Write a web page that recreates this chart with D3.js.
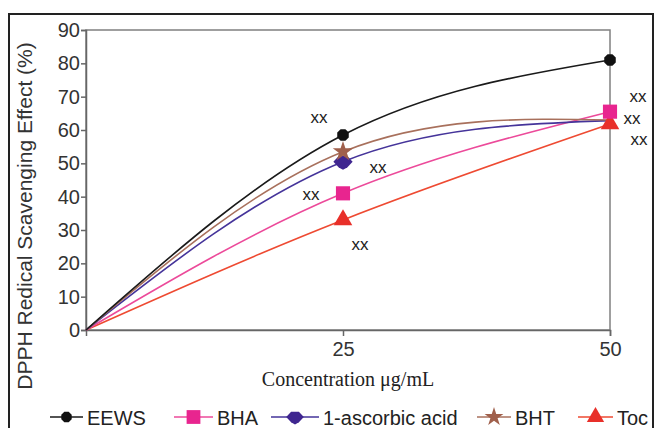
<!DOCTYPE html>
<html>
<head>
<meta charset="utf-8">
<script src="https://d3js.org/d3.v7.min.js"></script>
<style>
  html, body { margin: 0; padding: 0; background: #fff; }
  svg { display: block; font-family: Arial, "Liberation Sans", sans-serif; }
</style>
</head>
<body>
<div id="chart"></div>
<script>
// concentrations (µg/mL)
var conc = [0, 25, 50];

// DPPH scavenging (%)
var eews     = [0, 58.5, 81];
var bha      = [0, 41, 65.5];
var ascorbic = [0, 50.5, 62.8];
var bht      = [0, 53.5, 63];
var toc      = [0, 33, 61.8];

var yTicks = [0, 10, 20, 30, 40, 50, 60, 70, 80, 90];
var xTicks = [25, 50];

var seriesNames = ["EEWS", "BHA", "1-ascorbic acid", "BHT", "Toc"];
var seriesData  = [eews, bha, ascorbic, bht, toc];
var seriesColor = ["#111111", "#e8258f", "#3f2690", "#a0604c", "#e8302a"];
var lineColor   = ["#1a1a1a", "#ec4a9a", "#45349a", "#a8705c", "#ee4a32"];
// which points show a marker (the others are hidden under neighbours in the original)
var markerIdx   = [[1, 2], [1, 2], [1], [1], [1, 2]];

// "xx" notes next to points: [series index, x value, dx, dy]
var notes = [
  [0, 25, -24, -18],
  [2, 25, 35, 5],
  [1, 25, -32, 1],
  [4, 25, 17, 24],
  [0, 50, 28, 36],
  [1, 50, 22, 6],
  [4, 50, 29, 15]
];

var W = 654, H = 428;
var svg = d3.select("#chart").append("svg").attr("width", W).attr("height", H);

// outer frame
svg.append("path")
  .attr("d", "M9,430 L9,14 L653,14 L653,430")
  .attr("fill", "none").attr("stroke", "#222").attr("stroke-width", 2);

var x = d3.scaleLinear().domain([0, 25, 50]).range([86, 343, 610]);
var y = d3.scaleLinear().domain([0, 90]).range([330, 30]);

// plot box
svg.append("rect")
  .attr("x", x(0)).attr("y", y(90))
  .attr("width", x(50) - x(0)).attr("height", y(0) - y(90))
  .attr("fill", "none").attr("stroke", "#808080").attr("stroke-width", 1.5);

var yAxis = svg.append("g")
  .attr("transform", "translate(" + x(0) + ",0)")
  .call(d3.axisLeft(y).tickValues(yTicks).tickSize(5).tickPadding(1));
var xAxis = svg.append("g")
  .attr("transform", "translate(0," + y(0) + ")")
  .call(d3.axisBottom(x).tickValues(xTicks).tickSize(6).tickPadding(6));

[yAxis, xAxis].forEach(function(g) {
  g.select(".domain").attr("stroke", "#666").attr("stroke-width", 1.5);
  g.selectAll(".tick line").attr("stroke", "#666").attr("stroke-width", 1.5);
  g.selectAll(".tick text").attr("fill", "#333").style("font-size", "20px")
    .style("font-family", "Arial, 'Liberation Sans', sans-serif");
});

// axis titles
svg.append("text")
  .attr("transform", "translate(32,216) rotate(-90)")
  .attr("text-anchor", "middle")
  .attr("fill", "#333")
  .style("font-size", "21px")
  .text("DPPH Redical Scavenging Effect (%)");

svg.append("text")
  .attr("x", 348).attr("y", 386)
  .attr("text-anchor", "middle")
  .attr("fill", "#222")
  .style("font-family", "'Liberation Serif', 'Times New Roman', serif")
  .style("font-size", "20px")
  .text("Concentration \u03bcg/mL");

// marker shapes
var octagon = {
  draw: function(ctx, size) {
    var r = Math.sqrt(size / 2.83);
    for (var i = 0; i < 8; i++) {
      var a = Math.PI / 8 + i * Math.PI / 4;
      if (i === 0) ctx.moveTo(r * Math.cos(a), r * Math.sin(a));
      else ctx.lineTo(r * Math.cos(a), r * Math.sin(a));
    }
    ctx.closePath();
  }
};
var flatHex = {
  draw: function(ctx, size) {
    var r = Math.sqrt(size / 2.2);
    var pts = [[-r * 1.25, 0], [-r * 0.55, -r * 0.75], [r * 0.55, -r * 0.75],
               [r * 1.25, 0], [r * 0.55, r * 0.75], [0, r * 1.05], [-r * 0.55, r * 0.75]];
    pts.forEach(function(p, i) { if (i === 0) ctx.moveTo(p[0], p[1]); else ctx.lineTo(p[0], p[1]); });
    ctx.closePath();
  }
};
var shapes = [octagon, d3.symbolSquare, flatHex, d3.symbolStar, d3.symbolTriangle];
var sizes  = [110, 200, 130, 130, 150];
var legendSizes = [90, 190, 110, 110, 130];

var line = d3.line()
  .x(function(d) { return x(d[0]); })
  .y(function(d) { return y(d[1]); })
  .curve(d3.curveNatural);

// draw lines bottom-up so EEWS sits on top
var order = [4, 1, 2, 3, 0];
order.forEach(function(i) {
  var pts = conc.map(function(c, k) { return [c, seriesData[i][k]]; });
  svg.append("path")
    .attr("d", line(pts))
    .attr("fill", "none")
    .attr("stroke", lineColor[i])
    .attr("stroke-width", 1.6);
});
order.forEach(function(i) {
  var pts = markerIdx[i].map(function(k) { return [conc[k], seriesData[i][k]]; });
  svg.selectAll(null).data(pts).enter().append("path")
    .attr("transform", function(d) { return "translate(" + x(d[0]) + "," + y(d[1]) + ")"; })
    .attr("d", d3.symbol().type(shapes[i]).size(sizes[i]))
    .attr("fill", seriesColor[i]);
});

// xx notes
notes.forEach(function(n) {
  var k = conc.indexOf(n[1]);
  svg.append("text")
    .attr("x", x(n[1]) + n[2])
    .attr("y", y(seriesData[n[0]][k]) + n[3])
    .attr("text-anchor", "middle")
    .attr("dy", "0.35em")
    .attr("fill", "#222")
    .style("font-size", "17px")
    .text("xx");
});

// legend
var legX  = [50, 174, 271, 477, 578];
var legW  = [33, 39, 48, 34, 35];
var legY = 417;
seriesNames.forEach(function(name, i) {
  var g = svg.append("g");
  g.append("line")
    .attr("x1", legX[i]).attr("x2", legX[i] + legW[i])
    .attr("y1", legY).attr("y2", legY)
    .attr("stroke", lineColor[i]).attr("stroke-width", 1.6);
  g.append("path")
    .attr("transform", "translate(" + (legX[i] + legW[i] / 2) + "," + legY + ")")
    .attr("d", d3.symbol().type(shapes[i]).size(legendSizes[i]))
    .attr("fill", seriesColor[i]);
  g.append("text")
    .attr("x", legX[i] + legW[i] + 4)
    .attr("y", legY + 8)
    .attr("fill", "#222")
    .style("font-size", "20px")
    .text(name);
});
</script>
</body>
</html>
